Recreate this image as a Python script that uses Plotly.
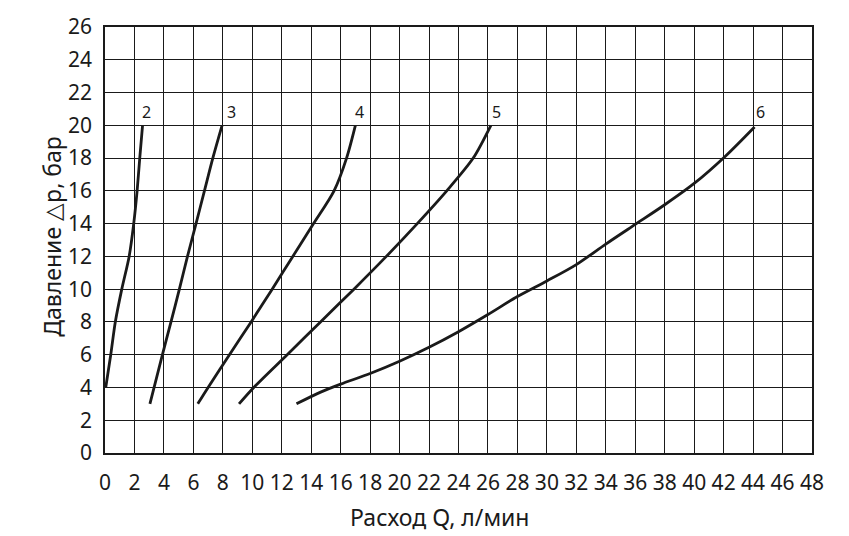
import plotly.graph_objects as go

# Flow Q (l/min) and pressure drop (bar), per curve
q2 = [0.05, 0.39, 0.7, 1.14, 1.64, 1.95, 2.18, 2.36, 2.55]
p2 = [4.0, 6.0, 8.0, 10.0, 12.0, 14.0, 16.0, 18.0, 20.0]

q3 = [3.05, 3.9, 4.48, 5.05, 5.6, 6.18, 6.75, 7.32, 7.95]
p3 = [3.0, 6.0, 8.0, 10.0, 12.0, 14.0, 16.0, 18.0, 20.0]

q4 = [6.3, 7.0, 8.45, 9.92, 11.35, 12.75, 14.16, 15.55, 16.4, 17.0]
p4 = [3.0, 4.0, 6.0, 8.0, 10.0, 12.0, 14.0, 16.0, 18.0, 20.0]

q5 = [9.1, 10.1, 12.37, 14.63, 16.9, 19.1, 21.2, 23.2, 25.0, 26.2]
p5 = [3.0, 4.0, 6.0, 8.0, 10.0, 12.0, 14.0, 16.0, 18.0, 20.0]

q6 = [13.0, 14.6, 16.0, 18.0, 20.0, 22.0, 24.0, 26.0, 28.0, 30.0, 32.0, 34.0, 36.0, 38.0, 40.0, 42.1, 44.1]
p6 = [3.0, 3.7, 4.2, 4.85, 5.6, 6.45, 7.4, 8.45, 9.55, 10.5, 11.5, 12.75, 13.95, 15.15, 16.45, 18.1, 19.9]

curve_names = ["2", "3", "4", "5", "6"]
label_q = [2.8, 8.6, 17.3, 26.6, 44.5]
label_p = [20.8, 20.8, 20.8, 20.8, 20.8]

ink = "#1a1a1a"
font_family = "Noto Sans"

fig = go.Figure()

for q, p in [(q2, p2), (q3, p3), (q4, p4), (q5, p5), (q6, p6)]:
    fig.add_trace(go.Scatter(
        x=q, y=p,
        mode="lines",
        line=dict(color=ink, width=2.8, shape="spline", smoothing=0.8),
        showlegend=False,
        hoverinfo="skip",
    ))

# curve numbers above the end of each line
for name, lx, ly in zip(curve_names, label_q, label_p):
    fig.add_annotation(x=lx, y=ly, text=name, showarrow=False,
                       font=dict(family=font_family, size=16, color=ink),
                       xanchor="center", yanchor="middle")

axis_common = dict(
    showgrid=True, gridcolor=ink, gridwidth=1.3,
    showline=True, linecolor=ink, linewidth=1.5, mirror=True,
    zeroline=False, dtick=2,
    tickfont=dict(family=font_family, size=21, color=ink),
    ticks="outside", ticklen=0, tickcolor="rgba(0,0,0,0)",
    fixedrange=True,
)

fig.update_xaxes(range=[0, 48], tick0=0, ticklabelstandoff=10, **axis_common)
fig.update_yaxes(range=[0, 26], tick0=0, ticklabelstandoff=7, **axis_common)

# axis titles as annotations so they sit where the reference has them
fig.add_annotation(xref="paper", yref="paper", x=0.4735, y=-0.151,
                   text="Расход Q, л/мин", showarrow=False,
                   font=dict(family=font_family, size=23, color=ink),
                   xanchor="center", yanchor="middle")
fig.add_annotation(xref="paper", yref="paper", x=-0.075, y=0.51,
                   text="Давление △p, бар", showarrow=False, textangle=-90,
                   font=dict(family=font_family, size=23, color=ink),
                   xanchor="center", yanchor="middle")

fig.update_layout(
    width=849, height=536,
    margin=dict(l=105, r=37, t=20, b=83),
    plot_bgcolor="white",
    paper_bgcolor="white",
)

# the page body has a default 8px margin, drop it so the figure starts at 0,0
fig.write_html("out.html", config={"displayModeBar": False},
               post_script="document.body.style.margin='0';")
